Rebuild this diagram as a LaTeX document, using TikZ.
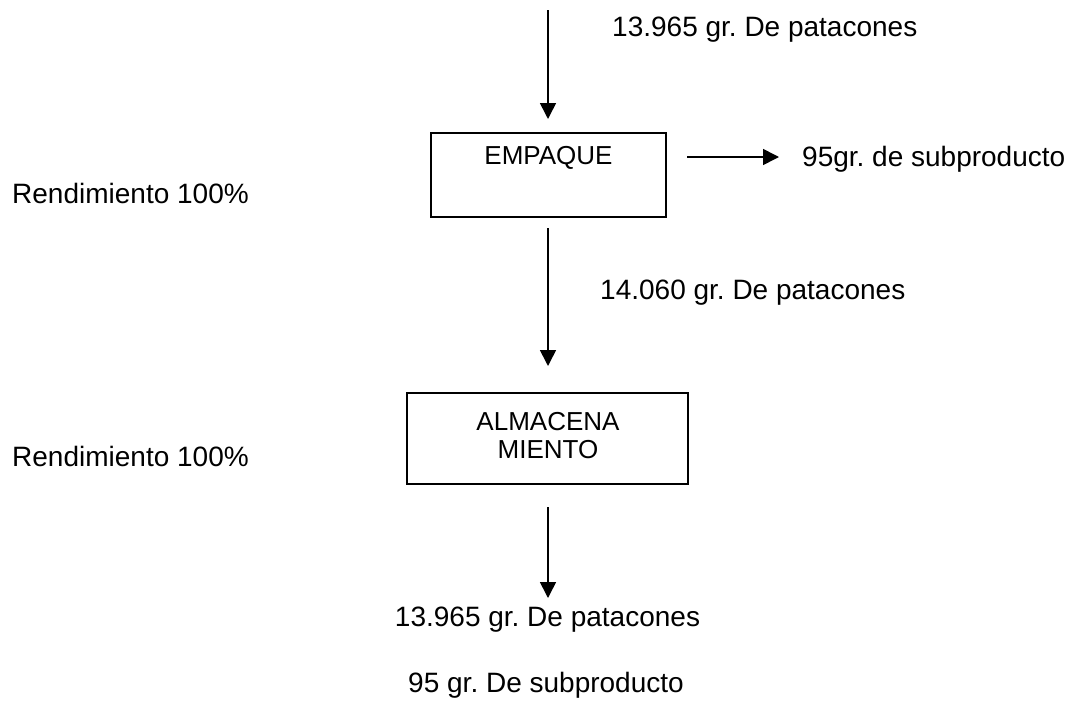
\documentclass[tikz,border=0pt]{standalone}
\usepackage{fontspec}
\setmainfont{Liberation Sans}
\usetikzlibrary{arrows.meta}
\frenchspacing
\begin{document}
\begin{tikzpicture}[x=1pt,y=-1pt,
  txt/.style={font=\fontsize{28}{28}\selectfont, inner sep=0pt},
  boxtxt/.style={font=\fontsize{26}{28}\selectfont, inner sep=0pt, align=center},
  procbox/.style={draw, line width=1.5pt, inner sep=0pt},
  flow/.style={line width=1.6pt, -{Triangle[length=16pt,width=16pt]}}]
\useasboundingbox (0,0) rectangle (1080,702);
% process boxes
\node[procbox, minimum width=235pt, minimum height=84pt] (emp) at (548.5,175) {};
\node[boxtxt] (empt) at (548.5,158) {EMPAQUE};
\node[procbox, minimum width=281pt, minimum height=91pt] (alm) at (547.5,438.5) {};
\node[boxtxt] (almt) at (548,436) {ALMACENA\\MIENTO};
% free ends of the connectors
\coordinate (in) at (548,10);
\coordinate (a1) at (548,119);
\coordinate (b0) at (548,228);
\coordinate (b1) at (548,366);
\coordinate (c0) at (548,507);
\coordinate (c1) at (548,598);
\coordinate (s0) at (687,157);
\coordinate (s1) at (779,157);
% labels
\node[txt, anchor=west] (lin) at (612,30) {13.965 gr. De patacones};
\node[txt, anchor=west] (sub) at (802,159) {95gr. de subproducto};
\node[txt, anchor=west] (mid) at (600,293) {14.060 gr. De patacones};
\node[txt, anchor=west] (r1) at (12,193) {Rendimiento 100\%};
\node[txt, anchor=west] (r2) at (12,456) {Rendimiento 100\%};
\node[txt] (out1) at (547.5,620) {13.965 gr. De patacones};
\node[txt] (out2) at (546,685) {95 gr. De subproducto};
% connectors
\draw[flow] (in) -- (a1);
\draw[flow] (b0) -- (b1);
\draw[flow] (c0) -- (c1);
\draw[flow] (s0) -- (s1);
\end{tikzpicture}
\end{document}
